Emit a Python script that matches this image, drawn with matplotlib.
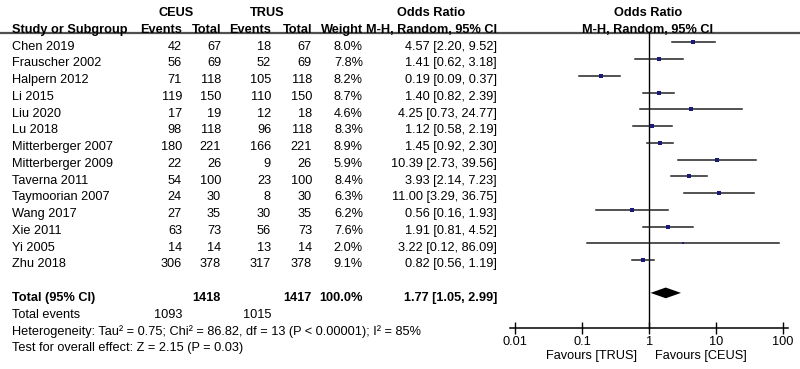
import matplotlib.pyplot as plt
from matplotlib.ticker import NullLocator

# study data
studies = ["Chen 2019", "Frauscher 2002", "Halpern 2012", "Li 2015", "Liu 2020",
           "Lu 2018", "Mitterberger 2007", "Mitterberger 2009", "Taverna 2011",
           "Taymoorian 2007", "Wang 2017", "Xie 2011", "Yi 2005", "Zhu 2018"]
ceus_events = [42, 56, 71, 119, 17, 98, 180, 22, 54, 24, 27, 63, 14, 306]
ceus_total = [67, 69, 118, 150, 19, 118, 221, 26, 100, 30, 35, 73, 14, 378]
trus_events = [18, 52, 105, 110, 12, 96, 166, 9, 23, 8, 30, 56, 13, 317]
trus_total = [67, 69, 118, 150, 18, 118, 221, 26, 100, 30, 35, 73, 14, 378]
weights = [8.0, 7.8, 8.2, 8.7, 4.6, 8.3, 8.9, 5.9, 8.4, 6.3, 6.2, 7.6, 2.0, 9.1]
odds = [4.57, 1.41, 0.19, 1.40, 4.25, 1.12, 1.45, 10.39, 3.93, 11.00, 0.56, 1.91, 3.22, 0.82]
ci_low = [2.20, 0.62, 0.09, 0.82, 0.73, 0.58, 0.92, 2.73, 2.14, 3.29, 0.16, 0.81, 0.12, 0.56]
ci_high = [9.52, 3.18, 0.37, 2.39, 24.77, 2.19, 2.30, 39.56, 7.23, 36.75, 1.93, 4.52, 86.09, 1.19]

pooled, pooled_low, pooled_high = 1.77, 1.05, 2.99
total_ceus, total_trus = 1418, 1417
events_ceus, events_trus = 1093, 1015
ticks = [0.01, 0.1, 1, 10, 100]
tick_labels = ["0.01", "0.1", "1", "10", "100"]

plt.rcParams['font.family'] = ['Liberation Sans', 'DejaVu Sans']
fs = 9.2

# rows: pixel y = 45 + 16.75 * row
step = 16.75
r_top = -45 / step
r_bot = (369 - 45) / step
t = 0.1  # text nudge down

fig = plt.figure(figsize=(8, 3.69), dpi=100)
ax = fig.add_axes([0, 0, 1, 1])
ax.set_xlim(0, 800)
ax.set_ylim(r_bot, r_top)
ax.axis('off')

# header
hdr = dict(fontsize=fs, fontweight='bold', va='center')
ax.text(176, -2 + t, "CEUS", ha='center', **hdr)
ax.text(267, -2 + t, "TRUS", ha='center', **hdr)
ax.text(431, -2 + t, "Odds Ratio", ha='center', **hdr)
ax.text(648, -2 + t, "Odds Ratio", ha='center', **hdr)
ax.text(12, -1 + t, "Study or Subgroup", ha='left', **hdr)
ax.text(182, -1 + t, "Events", ha='right', **hdr)
ax.text(221, -1 + t, "Total", ha='right', **hdr)
ax.text(271, -1 + t, "Events", ha='right', **hdr)
ax.text(312, -1 + t, "Total", ha='right', **hdr)
ax.text(363, -1 + t, "Weight", ha='right', **hdr)
ax.text(431, -1 + t, "M-H, Random, 95% CI", ha='center', **hdr)
ax.text(648, -1 + t, "M-H, Random, 95% CI", ha='center', **hdr)
ax.plot([0, 800], [-0.72, -0.72], color='#505050', lw=1.6)

# study rows
for i, s in enumerate(studies):
    y = i + t
    ax.text(12, y, s, ha='left', va='center', fontsize=fs)
    ax.text(182, y, str(ceus_events[i]), ha='right', va='center', fontsize=fs)
    ax.text(221, y, str(ceus_total[i]), ha='right', va='center', fontsize=fs)
    ax.text(271, y, str(trus_events[i]), ha='right', va='center', fontsize=fs)
    ax.text(312, y, str(trus_total[i]), ha='right', va='center', fontsize=fs)
    ax.text(363, y, f"{weights[i]:.1f}%", ha='right', va='center', fontsize=fs)
    ax.text(497, y, f"{odds[i]:.2f} [{ci_low[i]:.2f}, {ci_high[i]:.2f}]",
            ha='right', va='center', fontsize=fs)

# totals
n = len(studies)
rt = n + 1 + t
ax.text(12, rt, "Total (95% CI)", ha='left', **hdr)
ax.text(221, rt, str(total_ceus), ha='right', **hdr)
ax.text(312, rt, str(total_trus), ha='right', **hdr)
ax.text(363, rt, "100.0%", ha='right', **hdr)
ax.text(497, rt, f"{pooled:.2f} [{pooled_low:.2f}, {pooled_high:.2f}]", ha='right', **hdr)
ax.text(12, rt + 1, "Total events", ha='left', va='center', fontsize=fs)
ax.text(182, rt + 1, str(events_ceus), ha='right', va='center', fontsize=fs)
ax.text(271, rt + 1, str(events_trus), ha='right', va='center', fontsize=fs)
ax.text(12, rt + 2, "Heterogeneity: Tau\u00b2 = 0.75; Chi\u00b2 = 86.82, df = 13 (P < 0.00001); I\u00b2 = 85%",
        ha='left', va='center', fontsize=fs)
ax.text(12, rt + 3, "Test for overall effect: Z = 2.15 (P = 0.03)",
        ha='left', va='center', fontsize=fs)

# forest plot
fx = fig.add_axes([510 / 800, 0, 278 / 800, 1])
fx.set_xscale('log')
fx.set_xlim(10 ** -2.078, 10 ** 2.074)
fx.set_ylim(r_bot, r_top)
fx.patch.set_alpha(0)
for sp in ['top', 'right', 'left']:
    fx.spines[sp].set_visible(False)
axis_row = (328 - 45) / step
fx.spines['bottom'].set_position(('data', axis_row))
fx.spines['bottom'].set_linewidth(1.1)
fx.set_xticks(ticks)
fx.set_xticklabels(tick_labels)
fx.xaxis.set_minor_locator(NullLocator())
fx.tick_params(axis='x', direction='inout', length=9, width=1, pad=1.5, labelsize=fs)
fx.set_yticks([])

fx.plot([1, 1], [-0.72, axis_row], color='black', lw=1)

off = -0.15
for i in range(n):
    fx.plot([ci_low[i], ci_high[i]], [i + off, i + off], color='#222222', lw=1.1)
    side = 1.6 * weights[i] ** 0.5 * 0.72
    fx.plot(odds[i], i + off, marker='s', markersize=side, color='#1a1a78', mew=0)

dy = 0.32
yc = n + 0.8
fx.fill([pooled_low, pooled, pooled_high, pooled], [yc, yc - dy, yc, yc + dy],
        color='black', lw=0)

fav_row = (356 - 45) / step
fx.annotate("Favours [TRUS]", xy=(1, fav_row), xytext=(-9, 0), textcoords='offset points',
            ha='right', va='center', fontsize=fs)
fx.annotate("Favours [CEUS]", xy=(1, fav_row), xytext=(4, 0), textcoords='offset points',
            ha='left', va='center', fontsize=fs)

fig.savefig("out.png", dpi=100)
